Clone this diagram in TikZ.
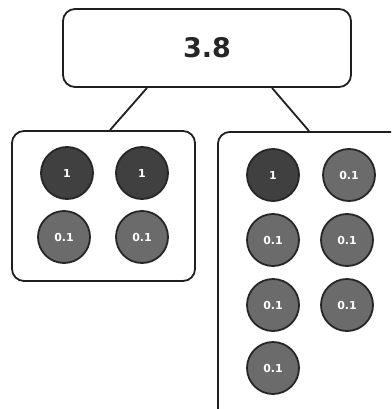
\documentclass[tikz,border=0pt]{standalone}
\usepackage{fontspec}
\setmainfont{DejaVu Sans}
\begin{document}
\begin{tikzpicture}[x=1pt,y=-1pt,
  box/.style={draw=black!88,line width=1.8pt,rounded corners=12pt,fill=white},
  coin/.style={circle,draw=black!85,line width=1.8pt,minimum size=52pt,inner sep=0pt,text=white,font=\bfseries\fontsize{11}{13}\selectfont},
  one/.style={coin,fill=black!75},
  tenth/.style={coin,fill=black!58},
  link/.style={draw=black!88,line width=1.8pt}]
\useasboundingbox (0,0) rectangle (391,409);
\clip (0,0) rectangle (391,409);
\node[box,minimum width=288pt,minimum height=78pt,font=\bfseries\fontsize{27}{30}\selectfont,text=black!85] (top) at (207,48) {3.8};
\node[box,minimum width=183pt,minimum height=150pt] (left) at (103.5,206) {};
\node[box,minimum width=200pt,minimum height=300pt,anchor=north west] (right) at (217,131) {};
\coordinate (tl) at (147,87);
\coordinate (tr) at (272,87);
\draw[link] (top.south -| tl) -- (left.north -| 110,0);
\draw[link] (top.south -| tr) -- (right.north -| 309,0);
\node[one] (l1) at (67,173) {1};
\node[one] (l2) at (142,173) {1};
\node[tenth] (l3) at (64,237) {0.1};
\node[tenth] (l4) at (142,237) {0.1};
\node[one] (r1) at (273,175) {1};
\node[tenth] (r2) at (349,175) {0.1};
\node[tenth] (r3) at (273,240) {0.1};
\node[tenth] (r4) at (347,240) {0.1};
\node[tenth] (r5) at (273,305) {0.1};
\node[tenth] (r6) at (347,305) {0.1};
\node[tenth] (r7) at (273,368) {0.1};
\end{tikzpicture}
\end{document}
